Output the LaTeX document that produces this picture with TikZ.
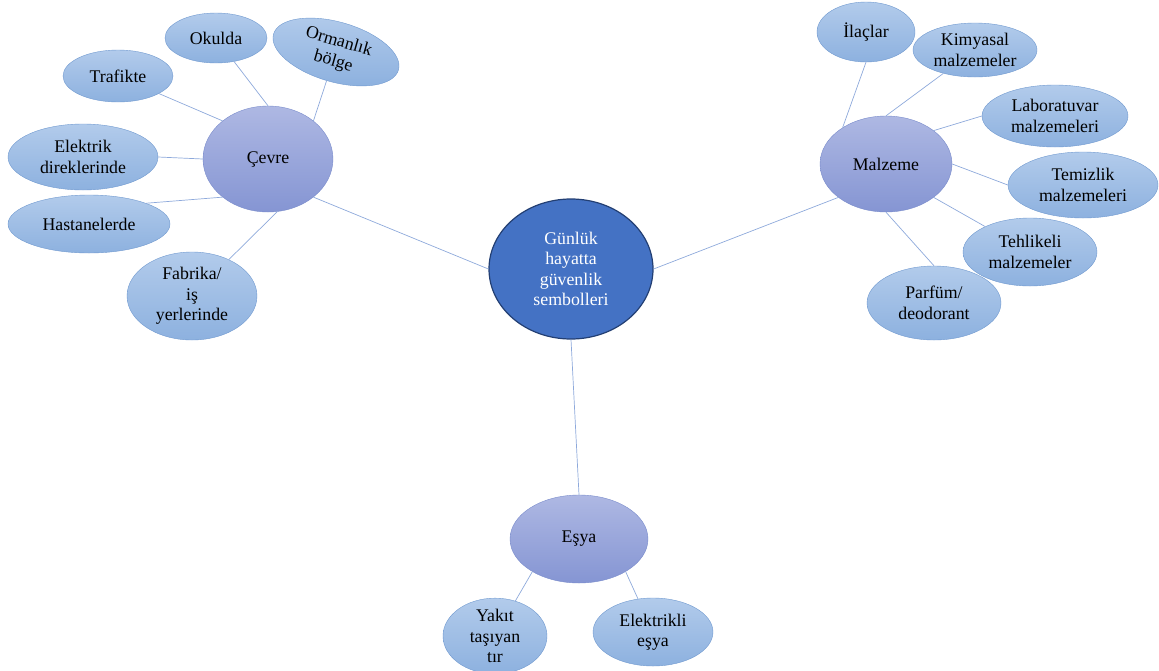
\documentclass[tikz,border=0pt]{standalone}
\usepackage{fontspec}
\setmainfont{Liberation Serif}
\usetikzlibrary{shapes.geometric}

\definecolor{leaftop}{HTML}{B2CBEB}
\definecolor{leafbot}{HTML}{8DB1DF}
\definecolor{leafline}{HTML}{7099CF}
\definecolor{topictop}{HTML}{AEB8E3}
\definecolor{topicbot}{HTML}{8595D3}
\definecolor{topicline}{HTML}{7A8CCB}
\definecolor{hubfill}{HTML}{4472C4}
\definecolor{hubline}{HTML}{233F73}
\definecolor{linkcol}{HTML}{8EA9DB}

\tikzset{
  leaf/.style={ellipse, draw=leafline, top color=leaftop, bottom color=leafbot,
    inner sep=0pt, align=center, font=\fontsize{17.8}{20.5}\selectfont},
  topic/.style={ellipse, draw=topicline, top color=topictop, bottom color=topicbot,
    inner sep=0pt, align=center, font=\fontsize{17.8}{20.5}\selectfont},
  hub/.style={ellipse, draw=hubline, line width=1.2pt, fill=hubfill, text=white,
    inner sep=0pt, align=center, font=\fontsize{17.8}{20.5}\selectfont},
  link/.style={draw=linkcol, line width=0.7pt}
}

\begin{document}
\begin{tikzpicture}[x=1pt, y=-1pt]
  \useasboundingbox (0,0) rectangle (1159,670);

  % hub and topics
  \node [hub, minimum width=164pt, minimum height=140pt] (hub) at (571, 269) {Günlük\\hayatta\\güvenlik\\sembolleri};
  \node [topic, minimum width=130pt, minimum height=106pt] (cevre) at (268, 159) {Çevre};
  \node [topic, minimum width=132pt, minimum height=96pt] (malzeme) at (886, 164) {Malzeme};
  \node [topic, minimum width=138pt, minimum height=88pt] (esya) at (579, 539) {Eşya};

  % Çevre leaves
  \node [leaf, minimum width=102pt, minimum height=50pt] (okulda) at (216, 38) {Okulda};
  \node [leaf, minimum width=130pt, minimum height=60pt, rotate=-16] (orman) at (336, 52) {Ormanlık\\bölge};
  \node [leaf, minimum width=110pt, minimum height=52pt] (trafik) at (118, 76) {Trafikte};
  \node [leaf, minimum width=150pt, minimum height=66pt] (direk) at (83, 157) {Elektrik\\direklerinde};
  \node [leaf, minimum width=162pt, minimum height=58pt] (hastane) at (89, 224) {Hastanelerde};
  \node [leaf, minimum width=130pt, minimum height=88pt] (fabrika) at (192, 296) {Fabrika/\\iş\\yerlerinde};

  % Malzeme leaves
  \node [leaf, minimum width=98pt, minimum height=60pt] (ilac) at (866, 32) {İlaçlar};
  \node [leaf, minimum width=124pt, minimum height=54pt] (kimya) at (975, 50) {Kimyasal\\malzemeler};
  \node [leaf, minimum width=146pt, minimum height=62pt] (lab) at (1055, 116) {Laboratuvar\\malzemeleri};
  \node [leaf, minimum width=150pt, minimum height=66pt] (temiz) at (1083, 185) {Temizlik\\malzemeleri};
  \node [leaf, minimum width=134pt, minimum height=68pt] (tehlike) at (1030, 252) {Tehlikeli\\malzemeler};
  \node [leaf, minimum width=134pt, minimum height=74pt] (parfum) at (934, 303) {Parfüm/\\deodorant};

  % Eşya leaves
  \node [leaf, minimum width=104pt, minimum height=68pt] (yakit) at (495, 636) {Yakıt\\taşıyan\\tır};
  \node [leaf, minimum width=120pt, minimum height=68pt] (elektrikli) at (653, 632) {Elektrikli\\eşya};

  % connectors
  \draw [link] (hub.west) -- (cevre.-40);
  \draw [link] (hub.east) -- (malzeme.215);
  \draw [link] (hub.south) -- (esya.north);

  \draw [link] (cevre.north) -- (okulda);
  \draw [link] (cevre.40) -- (orman);
  \draw [link] (cevre.140) -- (trafik);
  \draw [link] (cevre.west) -- (direk.east);
  \draw [link] (cevre.220) -- (hastane.20);
  \draw [link] (cevre.-80) -- (fabrika);

  \draw [link] (malzeme.140) -- (ilac.south);
  \draw [link] (malzeme.north) -- (kimya);
  \draw [link] (malzeme.35) -- (lab.west);
  \draw [link] (malzeme.east) -- (temiz.west);
  \draw [link] (malzeme.-35) -- (tehlike);
  \draw [link] (malzeme.south) -- (parfum.north);

  \draw [link] (esya.215) -- (yakit);
  \draw [link] (esya.-35) -- (elektrikli);
\end{tikzpicture}
\end{document}
